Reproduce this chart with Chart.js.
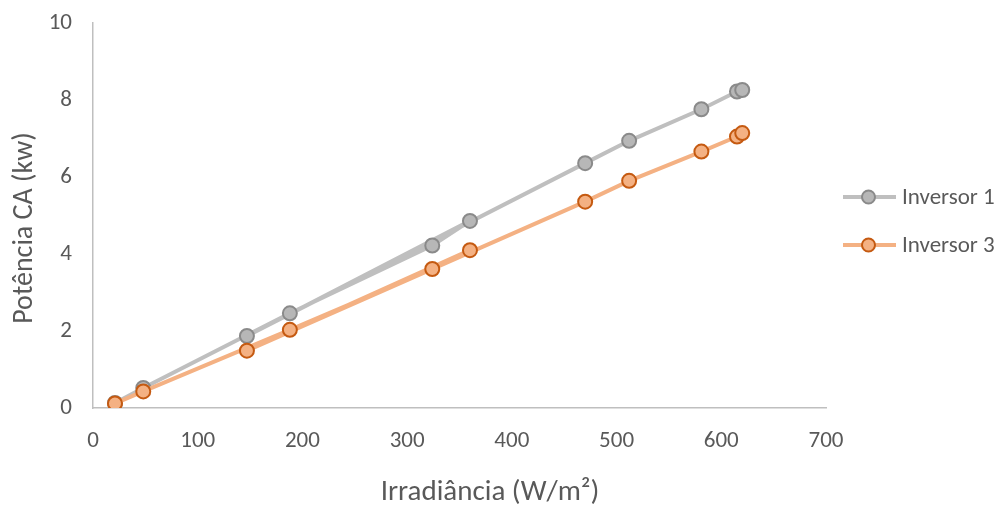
<!DOCTYPE html>
<html>
<head>
<meta charset="utf-8">
<script src="https://cdn.jsdelivr.net/npm/chart.js@4/dist/chart.umd.min.js"></script>
<style>
  html, body { margin: 0; padding: 0; background: #ffffff; }
  #wrap { width: 1000px; height: 507px; position: relative; }
</style>
</head>
<body>
<div id="wrap"><canvas id="chart" width="1000" height="507"></canvas></div>
<script>
// Irradiance readings (W/m²), in the order they were logged
const irradiance = [21, 48, 188, 324, 360, 147, 470, 512, 581, 615, 620];
// AC power output (kW) for each inverter at those readings
const inversor1 = [0.13, 0.52, 2.46, 4.22, 4.86, 1.87, 6.36, 6.94, 7.76, 8.22, 8.26];
const inversor3 = [0.12, 0.43, 2.03, 3.61, 4.10, 1.49, 5.36, 5.90, 6.66, 7.05, 7.14];
const seriesNames = ['Inversor 1', 'Inversor 3'];
const xTicks = [0, 100, 200, 300, 400, 500, 600, 700];
const yTicks = [0, 2, 4, 6, 8, 10];
const xTitle = 'Irradiância (W/m²)';
const yTitle = 'Potência CA (kw)';

const FONT = 'Carlito, Lato, sans-serif';
const TEXT = '#595959';
const AXIS = '#bfbfbf';

const styles = [
  { line: '#bfbfbf', fill: '#b7b7b7', border: '#8a8a8a' },
  { line: '#f4b183', fill: '#f4b183', border: '#c55a11' }
];

const toPoints = ys => irradiance.map((x, i) => ({ x: x, y: ys[i] }));

// Axis titles and the right-hand legend (line sample with a marker, then the name)
const decorations = {
  id: 'decorations',
  afterDraw(chart) {
    const ctx = chart.ctx;
    ctx.save();
    ctx.fillStyle = TEXT;
    ctx.textAlign = 'center';
    ctx.textBaseline = 'middle';
    ctx.font = '29px ' + FONT;
    ctx.fillText(xTitle, 490, 493);
    ctx.save();
    ctx.translate(25, 228);
    ctx.rotate(-Math.PI / 2);
    ctx.font = '28px ' + FONT;
    ctx.fillText(yTitle, 0, 0);
    ctx.restore();

    const rows = [197, 245];
    seriesNames.forEach((name, i) => {
      const s = styles[i];
      const y = rows[i];
      ctx.strokeStyle = s.line;
      ctx.lineWidth = 4;
      ctx.beginPath();
      ctx.moveTo(843, y);
      ctx.lineTo(896, y);
      ctx.stroke();
      ctx.beginPath();
      ctx.arc(868.5, y, 6.5, 0, Math.PI * 2);
      ctx.fillStyle = s.fill;
      ctx.fill();
      ctx.lineWidth = 2;
      ctx.strokeStyle = s.border;
      ctx.stroke();
      ctx.fillStyle = TEXT;
      ctx.font = '23px ' + FONT;
      ctx.textBaseline = 'middle';
      ctx.textAlign = 'left';
      ctx.fillText(name, 902, y + 1);
    });
    ctx.restore();
  }
};

const ds = (i, ys, order) => ({
  label: seriesNames[i],
  data: toPoints(ys),
  showLine: true,
  borderColor: styles[i].line,
  borderWidth: 4,
  pointRadius: 7,
  pointHoverRadius: 7,
  pointBackgroundColor: styles[i].fill,
  pointBorderColor: styles[i].border,
  pointBorderWidth: 2,
  tension: 0,
  order: order
});

new Chart(document.getElementById('chart'), {
  type: 'scatter',
  data: {
    datasets: [ds(0, inversor1, 1), ds(1, inversor3, 0)]
  },
  options: {
    responsive: false,
    animation: false,
    events: [],
    layout: { padding: { left: 0, right: 174, top: 23, bottom: 0 } },
    plugins: { legend: { display: false }, tooltip: { enabled: false } },
    scales: {
      x: {
        type: 'linear',
        min: 0, max: 700,
        afterBuildTicks: s => { s.ticks = xTicks.map(v => ({ value: v })); },
        afterFit: s => { s.height = 99; s.paddingLeft = 0; s.paddingRight = 0; },
        grid: { display: false, drawTicks: false },
        border: { display: true, color: AXIS, width: 1.5 },
        ticks: { color: TEXT, font: { family: FONT, size: 23 }, padding: 19 }
      },
      y: {
        type: 'linear',
        min: 0, max: 10,
        afterBuildTicks: s => { s.ticks = yTicks.map(v => ({ value: v })); },
        afterFit: s => { s.width = 93; s.paddingTop = 0; s.paddingBottom = 0; },
        grid: { display: false, drawTicks: false },
        border: { display: true, color: AXIS, width: 1.5 },
        ticks: { color: TEXT, font: { family: FONT, size: 23 }, padding: 21 }
      }
    }
  },
  plugins: [decorations]
});
</script>
</body>
</html>
